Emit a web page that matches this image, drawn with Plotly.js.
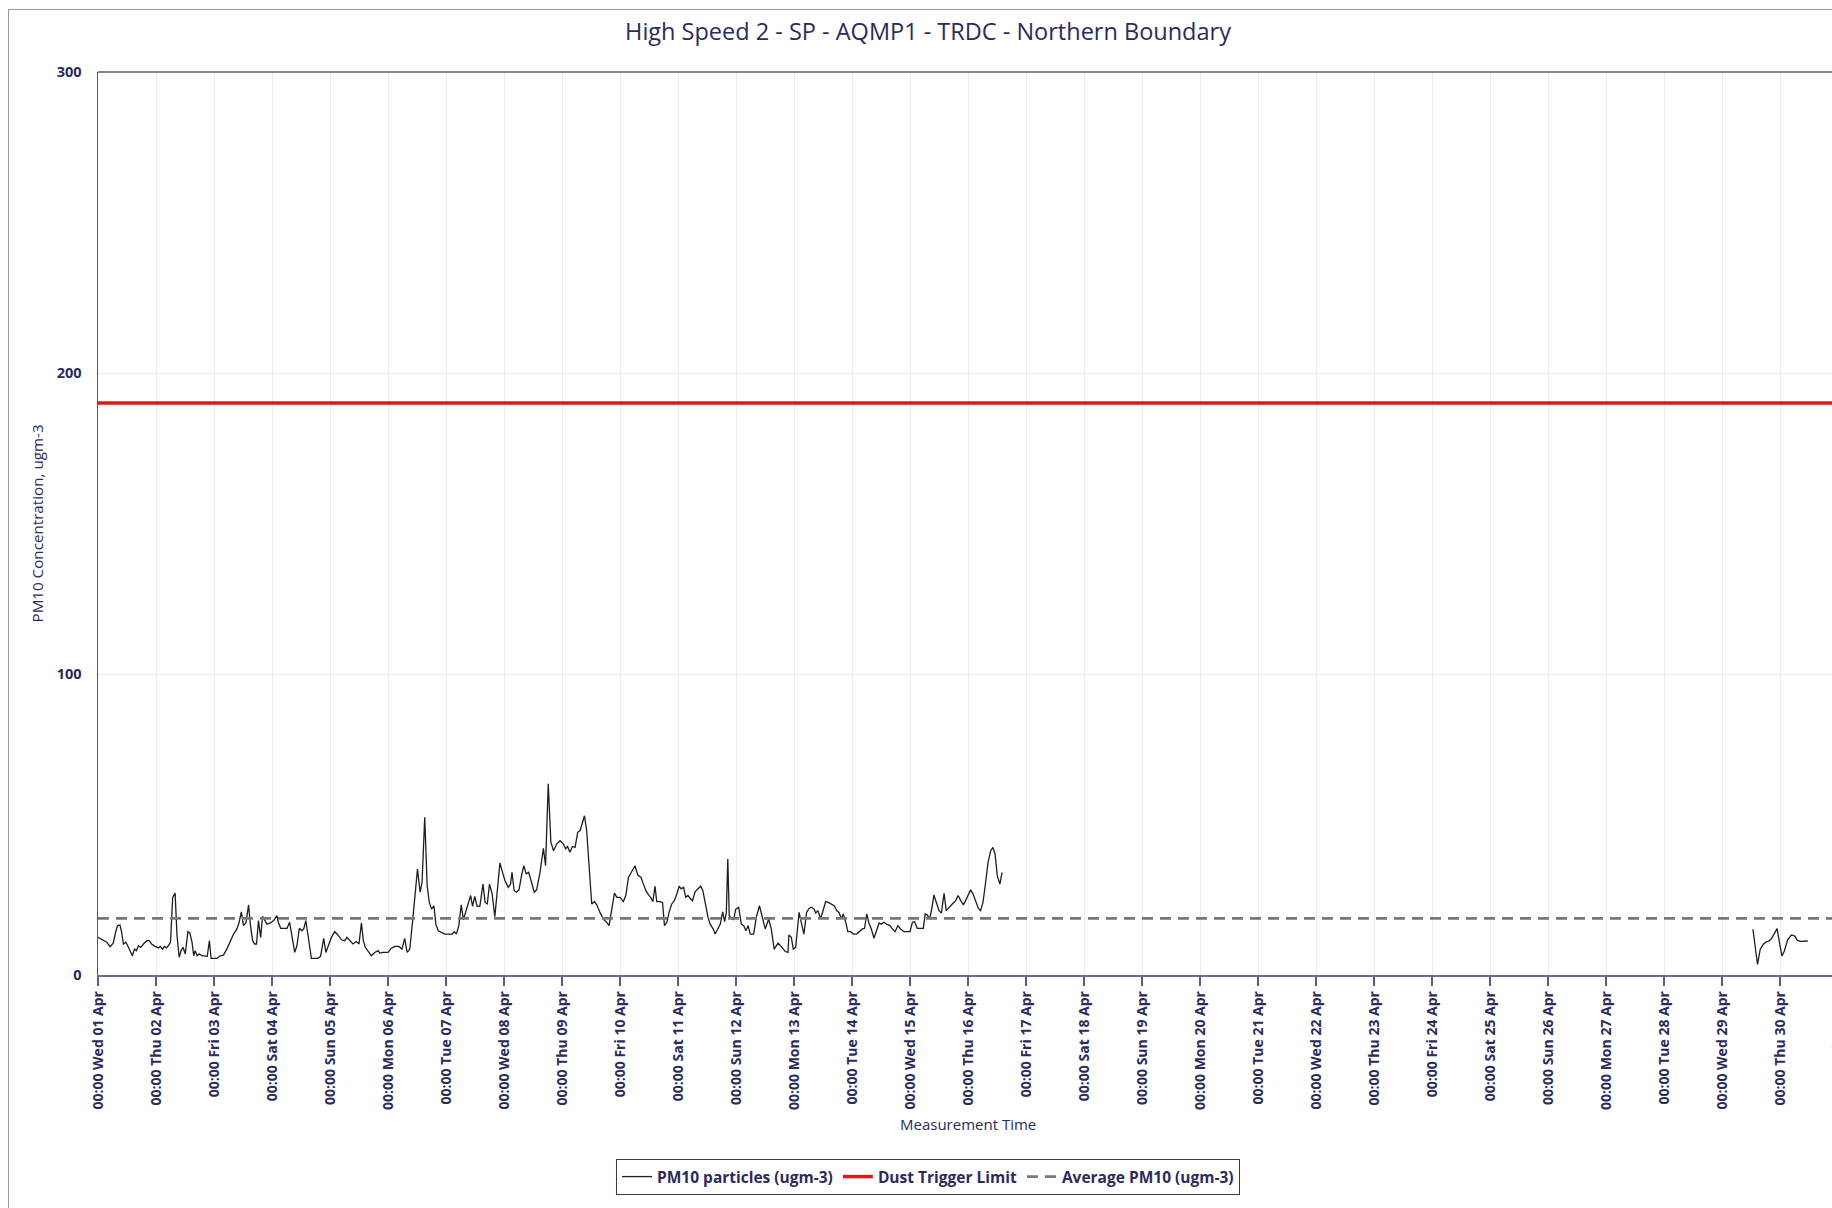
<!DOCTYPE html>
<html>
<head>
<meta charset="utf-8">
<script src="https://cdn.plot.ly/plotly-3.0.1.min.js"></script>
<style>
html, body { margin: 0; padding: 0; overflow: hidden; background: #ffffff; width: 1832px; height: 1208px; }
#chart { position: absolute; left: 0; top: 0; width: 1860px; height: 1208px; }
#frame { position: absolute; left: 8px; top: 9px; width: 1900px; height: 1300px; border: 1px solid #9a9a9a; pointer-events: none; z-index: 10; }
</style>
</head>
<body>
<div id="chart"></div>
<div id="frame"></div>
<script>
// ---------------- DATA ----------------
const chartTitle = "High Speed 2 - SP - AQMP1 - TRDC - Northern Boundary";
const yAxisTitle = "PM10 Concentration, ugm-3";
const xAxisTitle = "Measurement Time";
const seriesNames = ["PM10 particles (ugm-3)", "Dust Trigger Limit", "Average PM10 (ugm-3)"];
const startDate = "2020-04-01";
const endDate = "2020-05-01";

// hours elapsed since 00:00 Wed 01 Apr 2020 (null value separates the data gap)
const pmHours = [
0,2,3.6,5,6.3,7.3,8.1,9.1,9.8,10.5,11.5,12.3,13.3,14.2,15.1,15.9,16.7,17.7,18.8,20.2,21.1,22.2,23.6,25,25.8,26.7,27.5,28.3,29.1,30,
30.9,31.9,32.7,33.6,34.4,35.2,36.1,37.2,38,38.9,39.6,40.2,41,41.9,43,44.3,45.2,46.1,46.8,47.9,49.2,50.6,51.9,53.3,54.7,56.1,57.5,58.4,59.3,60.2,
61.2,62.3,63.1,64,64.8,65.6,66.4,67.3,68.1,68.9,69.9,71.3,72.7,74,74.7,75.6,76.8,78.2,79.3,80.2,81.4,82.3,83.3,84.4,85.2,86,87.1,88.3,89.6,91,
92.1,93.4,94.3,95.4,96.6,97.9,99.3,100.7,102.1,103,104.1,105.5,106.9,108,109,109.8,110.6,111.7,113.1,114.5,115.9,116.6,118,120,121.4,122.8,124.5,125.8,126.9,127.9,
129,130,131.1,132.2,133.3,134.1,135.2,136.2,137.1,138,139,139.8,140.8,142.1,143.5,145.2,146.6,147.4,148.3,149.3,150.3,151.2,152.4,153.2,154.2,155,155.9,156.9,158,159.3,
160.2,161.1,162,163.1,164.2,165.3,166.3,167.4,168.4,169.8,170.7,171.3,172.2,173.2,174.2,175.3,176.2,177.2,178.2,179.4,180.5,181.5,182.9,184.3,185.2,186.3,187.4,188.5,189.8,191.2,
192.6,193.5,194.3,195.3,196.3,197.4,198.5,199.5,200.4,201.3,202.2,203.2,204.3,205.4,206.4,207.7,209.1,210.5,211.5,212.6,213.7,214.7,216,217.4,218.4,219.5,220.6,222.2,223.4,224.7,
225.7,226.7,227.8,228.7,229.6,230.5,231.2,232.6,233.6,234.4,235.4,236.3,237.4,238.5,239.5,240.5,241.3,242.3,243.2,244.1,245,246,247.1,248.1,249.4,250.3,251.3,252.4,253.3,254.4,
255.4,256.5,257.5,258.5,259.3,260,260.6,261.2,262,263,263.9,265.1,266.2,267.2,268.1,269,269.9,271.3,272.4,273.7,274.8,276.1,277.5,278.6,279.8,281.4,283,284.4,285.5,285.9,
286.9,287.7,288.7,290.1,291,292.1,293.2,294.2,295.2,296.3,297,297.9,299,300.1,301.1,302.2,303.2,304.6,305.7,306.6,307.6,308.4,309.4,310.3,311.4,312.6,313.9,314.9,316.3,317.2,
318.1,319,320,321.1,322.2,323.2,324.1,325.2,326.3,327.7,328.7,329.8,331,332.1,333.5,334.9,336,337,337.9,339,340.4,341.5,342.3,343.2,344.1,345,345.9,346.9,348,349,
350.1,351,352.1,353.5,354.9,355.9,357,358.1,359,360,361.1,362.1,363.2,364.3,365.2,366.2,367.3,368.3,369.4,370.3,371.2,372.1,373.2,374.1,
500,
684.8,686.7,687.8,689.1,690.3,691.5,692.5,693.5,694.8,695.8,696.8,697.8,699.2,700.7,702,703.2,704.5,707.5
];
const pmValues = [
12.5,11.7,10.9,9.4,10.6,14.2,16.4,16.6,14.2,10.3,10.9,9.7,8.1,6.4,8.6,8.1,9.7,9.2,10.3,11.4,11.4,10.3,9.5,9.0,9.5,8.6,9.5,9.0,9.7,10.9,
25.8,27.2,13.1,5.9,8.1,9.2,7.0,14.4,14.0,10.9,6.4,8.1,6.4,7.0,6.4,6.2,6.2,11.4,5.5,5.5,5.5,6.4,6.6,8.6,11.4,13.6,15.3,17.5,21.0,16.4,
17.3,23.3,16.4,11.4,10.3,10.3,18.1,12.5,19.5,18.1,16.9,17.3,18.1,19.7,17.3,15.5,15.5,15.5,17.5,12.5,7.5,9.7,15.5,14.7,15.5,18.1,12.0,5.5,5.5,5.5,
6.2,12.2,7.5,9.7,12.5,14.4,13.3,11.7,11.4,12.5,11.4,10.3,11.1,10.3,17.3,11.4,9.2,7.8,6.4,7.5,8.1,7.3,7.5,7.5,8.9,9.5,9.5,8.6,12.2,7.5,
8.6,16.4,24.7,35.2,27.5,30.8,52.4,29.7,24.1,21.9,23.0,16.9,14.7,14.2,13.6,13.6,13.6,14.4,13.6,16.4,23.3,18.4,21.4,24.1,26.4,22.8,26.1,22.8,22.8,30.2,
24.1,23.6,30.2,26.9,19.4,28.6,37.2,34.1,31.3,29.1,30.2,34.1,28.0,27.5,28.3,33.2,36.3,33.6,34.1,30.8,27.5,28.3,34.1,42.1,36.3,63.5,44.1,41.3,43.5,44.6,
43.5,41.9,42.7,40.8,42.7,42.4,47.4,48.0,50.7,52.9,48.0,35.2,23.6,24.4,23.3,20.8,18.6,17.5,16.4,21.9,27.2,25.8,25.8,24.4,26.4,32.4,34.1,36.3,33.2,32.4,
30.2,28.0,26.6,25.8,24.4,29.5,24.4,24.4,24.1,16.4,17.5,20.8,23.6,24.7,26.9,29.5,28.6,29.1,25.8,26.4,25.5,24.7,27.7,28.6,29.5,28.0,23.6,19.2,16.9,15.5,
13.6,15.5,16.9,21.0,17.7,20.8,38.5,19.7,18.8,18.4,21.9,22.5,16.9,16.4,14.7,16.4,13.6,13.6,19.2,23.0,19.7,15.3,18.6,15.3,8.6,10.6,9.2,7.8,7.5,13.3,
12.5,8.6,9.2,20.8,17.5,13.6,20.8,22.1,22.5,21.9,20.6,21.4,18.6,21.9,24.4,24.1,23.6,23.0,21.4,20.8,18.8,20.3,17.5,14.4,14.4,13.6,13.6,14.4,15.3,15.5,
20.3,17.3,15.3,12.2,15.1,17.3,16.9,17.5,16.9,16.4,15.3,14.4,16.4,15.3,14.4,14.4,14.4,17.5,17.7,15.5,15.5,15.5,20.3,19.9,18.6,21.9,26.6,24.1,21.4,20.6,
27.1,21.4,22.5,23.6,24.7,26.4,24.7,23.3,24.7,26.6,28.3,26.9,24.4,22.1,21.4,24.1,30.8,37.4,41.3,42.4,40.2,33.0,30.2,34.1,
null,
15.2,3.5,8.5,10.2,11.0,11.3,12.1,13.5,15.4,10.7,6.3,8.0,11.8,13.3,13.0,11.5,11.2,11.3
];
const triggerLimit = 190;
const averagePM10 = 18.8;

const yTickVals = [0, 100, 200, 300];
const xTickDates = [
"2020-04-01","2020-04-02","2020-04-03","2020-04-04","2020-04-05","2020-04-06","2020-04-07","2020-04-08",
"2020-04-09","2020-04-10","2020-04-11","2020-04-12","2020-04-13","2020-04-14","2020-04-15","2020-04-16",
"2020-04-17","2020-04-18","2020-04-19","2020-04-20","2020-04-21","2020-04-22","2020-04-23","2020-04-24",
"2020-04-25","2020-04-26","2020-04-27","2020-04-28","2020-04-29","2020-04-30","2020-05-01"
];
const xTickLabels = [
"00:00 Wed 01 Apr","00:00 Thu 02 Apr","00:00 Fri 03 Apr","00:00 Sat 04 Apr","00:00 Sun 05 Apr","00:00 Mon 06 Apr",
"00:00 Tue 07 Apr","00:00 Wed 08 Apr","00:00 Thu 09 Apr","00:00 Fri 10 Apr","00:00 Sat 11 Apr","00:00 Sun 12 Apr",
"00:00 Mon 13 Apr","00:00 Tue 14 Apr","00:00 Wed 15 Apr","00:00 Thu 16 Apr","00:00 Fri 17 Apr","00:00 Sat 18 Apr",
"00:00 Sun 19 Apr","00:00 Mon 20 Apr","00:00 Tue 21 Apr","00:00 Wed 22 Apr","00:00 Thu 23 Apr","00:00 Fri 24 Apr",
"00:00 Sat 25 Apr","00:00 Sun 26 Apr","00:00 Mon 27 Apr","00:00 Tue 28 Apr","00:00 Wed 29 Apr","00:00 Thu 30 Apr",
"00:00 Fri 01 May"
];

// ---------------- BUILD ----------------
const baseMs = Date.UTC(2020, 3, 1);
const pmX = pmHours.map(h => baseMs + h * 3600000);

const navy = "#2b2b5e";
const fontFam = "'Open Sans', 'DejaVu Sans', sans-serif";

const traces = [
  { x: pmX, y: pmValues, type: "scatter", mode: "lines", name: seriesNames[0],
    line: { color: "#1e1e1e", width: 1.3 }, connectgaps: false },
  { x: [startDate, endDate], y: [triggerLimit, triggerLimit], type: "scatter", mode: "lines", name: seriesNames[1],
    line: { color: "#e8141c", width: 3.5 } },
  { x: [startDate, endDate], y: [averagePM10, averagePM10], type: "scatter", mode: "lines", name: seriesNames[2],
    line: { color: "#777777", width: 2.6, dash: "11px,7px" } }
];

const W = 1860, H = 1208;
const L = 98, T = 72, R = W - 1838, B = H - 975;

const layout = {
  width: W, height: H,
  margin: { l: L, r: R, t: T, b: B, pad: 0 },
  paper_bgcolor: "rgba(255,255,255,0)",
  plot_bgcolor: "#ffffff",
  font: { family: fontFam, color: navy },
  title: { text: chartTitle, xref: "container", x: 928 / W, xanchor: "center",
           yref: "container", y: 1 - 32 / H, yanchor: "middle",
           font: { size: 23.5, color: navy, family: fontFam } },
  showlegend: true,
  legend: { orientation: "h", xref: "paper", yref: "paper",
            x: (928 - L) / (1838 - L), xanchor: "center",
            y: (975 - 1159) / (975 - T), yanchor: "top",
            bordercolor: "#3a3a4a", borderwidth: 1, bgcolor: "#ffffff",
            font: { size: 15.5, color: navy, family: fontFam, weight: "bold" },
            itemwidth: 30, tracegroupgap: 0 },
  xaxis: {
    type: "date", range: [startDate, endDate], autorange: false,
    tickmode: "array", tickvals: xTickDates, ticktext: xTickLabels, tickangle: -90,
    ticks: "outside", ticklen: 9, tickwidth: 1.2, tickcolor: "#5c5c88",
    tickfont: { size: 14, color: navy, family: fontFam, weight: "bold" },
    showline: true, linecolor: "#6a6a94", linewidth: 1.5,
    showgrid: true, gridcolor: "#ececf0", gridwidth: 1,
    zeroline: false, fixedrange: true
  },
  yaxis: {
    range: [0, 300], autorange: false,
    tickmode: "array", tickvals: yTickVals, ticktext: yTickVals.map(String),
    ticks: "", ticklabelstandoff: 12,
    tickfont: { size: 14.5, color: navy, family: fontFam, weight: "bold" },
    showline: true, linecolor: "#555555", linewidth: 1.5,
    showgrid: true, gridcolor: "#ececf0", gridwidth: 1,
    zeroline: false, fixedrange: true
  },
  shapes: [
    { type: "line", xref: "paper", yref: "paper", x0: 0, x1: 1, y0: 1, y1: 1,
      line: { color: "#606060", width: 1.5 } }
  ],
  annotations: [
    { text: yAxisTitle, xref: "paper", yref: "paper", x: 0, y: 0.5, xanchor: "center", yanchor: "middle",
      xshift: 36 - L, textangle: -90, showarrow: false, font: { size: 15.2, color: navy, family: fontFam } },
    { text: xAxisTitle, xref: "paper", yref: "paper", x: 0.5, y: (975 - 1124) / (975 - T), xanchor: "center", yanchor: "middle",
      showarrow: false, font: { size: 15, color: navy, family: fontFam } }
  ]
};

Plotly.newPlot("chart", traces, layout, { displayModeBar: false, staticPlot: true });
</script>
</body>
</html>
